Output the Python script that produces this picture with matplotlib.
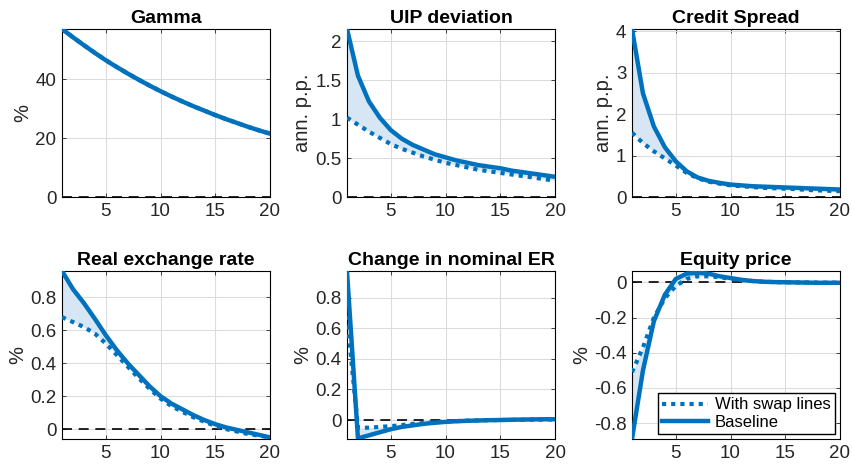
import matplotlib
matplotlib.use("Agg")
import matplotlib.pyplot as plt
import numpy as np

plt.rcParams['font.family'] = ['Liberation Sans', 'DejaVu Sans']

t = np.arange(1, 21)

gamma_base = [57.0, 54.2, 51.5, 48.9, 46.4, 44.1, 41.9, 39.8, 37.8, 35.9,
              34.1, 32.4, 30.8, 29.3, 27.8, 26.4, 25.1, 23.8, 22.6, 21.5]
gamma_swap = gamma_base

uip_base = [2.16, 1.56, 1.23, 1.02, 0.86, 0.75, 0.67, 0.61, 0.55, 0.51,
            0.47, 0.44, 0.41, 0.39, 0.37, 0.34, 0.32, 0.30, 0.28, 0.26]
uip_swap = [1.02, 0.93, 0.84, 0.76, 0.68, 0.62, 0.57, 0.52, 0.48, 0.44,
            0.41, 0.38, 0.35, 0.33, 0.31, 0.29, 0.27, 0.25, 0.23, 0.21]

cs_base = [4.05, 2.50, 1.70, 1.20, 0.86, 0.62, 0.47, 0.39, 0.34, 0.30,
           0.28, 0.26, 0.25, 0.24, 0.23, 0.22, 0.21, 0.20, 0.19, 0.18]
cs_swap = [1.55, 1.30, 1.10, 0.93, 0.76, 0.58, 0.45, 0.37, 0.32, 0.28,
           0.26, 0.24, 0.22, 0.21, 0.20, 0.19, 0.17, 0.16, 0.15, 0.14]

rer_base = [0.96, 0.85, 0.765, 0.67, 0.57, 0.48, 0.40, 0.33, 0.26, 0.20,
            0.155, 0.12, 0.085, 0.055, 0.03, 0.01, -0.005, -0.02, -0.035, -0.05]
rer_swap = [0.68, 0.65, 0.62, 0.58, 0.52, 0.45, 0.38, 0.31, 0.245, 0.185,
            0.14, 0.105, 0.072, 0.045, 0.02, 0.0, -0.015, -0.03, -0.04, -0.05]

ner_base = [0.97, -0.12, -0.10, -0.08, -0.06, -0.045, -0.035, -0.025, -0.018, -0.012,
            -0.008, -0.005, -0.003, -0.001, 0.0, 0.002, 0.003, 0.004, 0.005, 0.005]
ner_swap = [0.68, -0.05, -0.05, -0.045, -0.04, -0.033, -0.025, -0.02, -0.015, -0.01,
            -0.007, -0.004, -0.002, -0.001, 0.0, 0.001, 0.002, 0.003, 0.003, 0.004]

eq_base = [-0.89, -0.50, -0.22, -0.07, 0.02, 0.05, 0.055, 0.05, 0.035, 0.025,
           0.015, 0.008, 0.004, 0.002, 0.001, 0.0, -0.001, -0.002, -0.002, -0.002]
eq_swap = [-0.51, -0.37, -0.20, -0.09, -0.02, 0.02, 0.035, 0.035, 0.03, 0.02,
           0.014, 0.008, 0.004, 0.002, 0.001, 0.0, 0.0, -0.001, -0.001, -0.001]

titles = ['Gamma', 'UIP deviation', 'Credit Spread',
          'Real exchange rate', 'Change in nominal ER', 'Equity price']
ylabels = ['%', 'ann. p.p.', 'ann. p.p.', '%', '%', '%']
bases = [gamma_base, uip_base, cs_base, rer_base, ner_base, eq_base]
swaps = [gamma_swap, uip_swap, cs_swap, rer_swap, ner_swap, eq_swap]
ylims = [(0, 57), (0, 2.16), (0, 4.05), (-0.06, 0.96), (-0.124, 0.974), (-0.89, 0.065)]
yticks = [[0, 20, 40], [0, 0.5, 1, 1.5, 2], [0, 1, 2, 3, 4],
          [0, 0.2, 0.4, 0.6, 0.8], [0, 0.2, 0.4, 0.6, 0.8],
          [-0.8, -0.6, -0.4, -0.2, 0]]
ytick_labels = [['0', '20', '40'], ['0', '0.5', '1', '1.5', '2'], ['0', '1', '2', '3', '4'],
                ['0', '0.2', '0.4', '0.6', '0.8'], ['0', '0.2', '0.4', '0.6', '0.8'],
                ['-0.8', '-0.6', '-0.4', '-0.2', '0']]

blue = '#0072BD'
fill_c = '#d6e6f4'
tick_c = '#262626'

fig = plt.figure(figsize=(8.52, 4.66), dpi=100)
lefts = [62 / 852, 347 / 852, 632 / 852]
bottoms = [1 - 197 / 466, 1 - 439 / 466]
w = 208 / 852
h = 168 / 466

for i in range(6):
    r, c = divmod(i, 3)
    ax = fig.add_axes([lefts[c], bottoms[r], w, h])
    base = np.array(bases[i])
    swap = np.array(swaps[i])
    ax.fill_between(t, base, swap, color=fill_c, lw=0, zorder=1)
    ax.axhline(0, color='black', ls=(0, (6, 4)), lw=1.2, zorder=2)
    ax.plot(t, swap, color=blue, lw=3, ls=(0, (1, 1.2)), zorder=3, label='With swap lines')
    ax.plot(t, base, color=blue, lw=3.2, zorder=4, label='Baseline')
    ax.set_xlim(1, 20)
    ax.set_ylim(*ylims[i])
    ax.set_xticks([5, 10, 15, 20])
    ax.set_yticks(yticks[i])
    ax.set_yticklabels(ytick_labels[i])
    ax.grid(True, color='#dcdcdc', lw=0.8)
    ax.set_axisbelow(True)
    ax.tick_params(direction='in', top=True, right=True, labelsize=13.5,
                   colors=tick_c, length=3, width=0.6, pad=4)
    for s in ax.spines.values():
        s.set_linewidth(0.8)
        s.set_color('black')
    ax.set_title(titles[i], fontsize=14, fontweight='bold', pad=4)
    ax.set_ylabel(ylabels[i], fontsize=14.5, color=tick_c, labelpad=2)
    if i == 5:
        ax.legend(loc='lower right', fontsize=12, frameon=True, fancybox=False,
                  edgecolor='black', framealpha=1, handlelength=2.8,
                  borderpad=0.25, labelspacing=0.15, borderaxespad=0.3,
                  handletextpad=0.4)

fig.savefig('out.png', dpi=100)
